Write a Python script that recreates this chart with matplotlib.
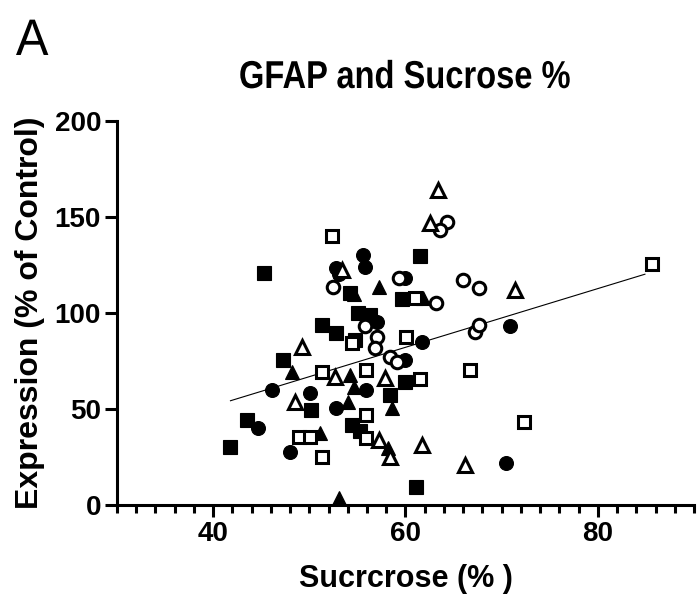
import matplotlib
matplotlib.use("Agg")
import matplotlib.pyplot as plt
from matplotlib.ticker import MultipleLocator
from matplotlib.textpath import TextPath
from matplotlib.patches import PathPatch
from matplotlib.font_manager import FontProperties
from matplotlib.transforms import Affine2D, IdentityTransform

plt.rcParams['font.family'] = ['Liberation Sans', 'DejaVu Sans']

# filled squares
fsq_x = [45.3, 61.5, 54.2, 59.6, 51.3, 52.8, 55.1, 56.3, 54.7, 47.3, 50.2, 43.5, 41.8, 54.4, 55.3, 59.9, 58.4, 61.1]
fsq_y = [120.8, 129.8, 110.3, 107.1, 93.8, 89.4, 99.8, 99.0, 85.9, 75.5, 49.5, 44.3, 30.4, 41.7, 38.5, 64.2, 57.3, 9.5]

# filled circles
fci_x = [55.6, 55.8, 52.8, 53.1, 59.9, 57.0, 61.7, 59.9, 46.1, 50.1, 52.8, 55.9, 44.7, 48.0, 70.9, 70.5]
fci_y = [130.2, 124.1, 123.3, 120.5, 118.0, 95.5, 85.1, 75.5, 59.9, 58.2, 50.3, 59.9, 39.9, 27.8, 93.2, 21.7]

# filled triangles
ftr_x = [57.2, 61.8, 54.6, 48.2, 54.2, 54.6, 54.0, 58.6, 51.1, 58.2, 53.1]
ftr_y = [113.7, 107.6, 110.0, 69.4, 67.7, 61.6, 53.8, 50.3, 37.3, 29.5, 3.5]

# open squares
osq_x = [52.4, 61.0, 60.1, 54.4, 51.3, 55.9, 61.5, 66.7, 55.9, 48.9, 50.1, 55.9, 51.3, 72.3, 85.6]
osq_y = [140.3, 107.6, 87.7, 84.2, 69.4, 70.3, 65.5, 70.3, 46.9, 35.6, 35.6, 34.7, 25.2, 43.4, 125.4]

# open circles
oci_x = [52.5, 59.3, 64.3, 63.6, 63.2, 66.0, 67.6, 55.8, 57.0, 56.8, 58.4, 59.1, 67.2, 67.6]
oci_y = [113.7, 118.0, 147.6, 143.2, 105.0, 117.2, 112.9, 93.0, 87.7, 81.6, 77.2, 74.6, 90.3, 93.8]

# open triangles
otr_x = [63.4, 62.6, 53.4, 49.2, 52.7, 57.9, 48.5, 57.2, 58.4, 61.7, 66.2, 71.4]
otr_y = [164.0, 146.7, 122.4, 82.5, 66.5, 66.0, 53.8, 33.9, 25.2, 31.3, 20.8, 112.0]

# regression line ends
fit_x = [41.8, 84.9]
fit_y = [54.3, 120.2]

fig = plt.figure(figsize=(6.99, 6.05), dpi=100)
ax = fig.add_axes([0.1674, 0.1653, 0.8254, 0.6347])


def squeezed_text(x, y, s, size, sx, weight='bold', ha='center'):
    # text drawn as a path, narrowed horizontally; x, y in pixels, y is the baseline
    fp = FontProperties(family='Liberation Sans', weight=weight)
    path = TextPath((0, 0), s, size=size * fig.dpi / 72, prop=fp)
    ext = path.get_extents()
    shift = ext.x0 if ha == 'left' else (ext.x0 + ext.x1) / 2
    tr = Affine2D().translate(-shift, 0).scale(sx, 1).translate(x, y)
    fig.add_artist(PathPatch(tr.transform_path(path), transform=IdentityTransform(),
                             facecolor='black', lw=0))


ax.plot(fit_x, fit_y, color='black', lw=0.8, zorder=2)

filled = dict(ls='none', color='black', mec='black', mew=0.8, clip_on=False, zorder=3)
hollow = dict(ls='none', mfc='white', mec='black', mew=2.2, clip_on=False, zorder=3)

ax.plot(fsq_x, fsq_y, marker='s', ms=10, **filled)
ax.plot(fci_x, fci_y, marker='o', ms=10, **filled)
ax.plot(ftr_x, ftr_y, marker='^', ms=10, **filled)
ax.plot(osq_x, osq_y, marker='s', ms=9, **hollow)
ax.plot(oci_x, oci_y, marker='o', ms=9, **hollow)
ax.plot(otr_x, otr_y, marker='^', ms=10, **hollow)

ax.set_xlim(30, 90)
ax.set_ylim(0, 200)
ax.set_xticks([40, 60, 80])
ax.xaxis.set_minor_locator(MultipleLocator(2))
ax.set_yticks([0, 50, 100, 150, 200])

for s in ['top', 'right']:
    ax.spines[s].set_visible(False)
for s in ['left', 'bottom']:
    ax.spines[s].set_linewidth(2.2)

ax.tick_params(axis='both', which='major', width=2.2, length=8.5,
               labelsize=20, pad=3)
ax.tick_params(axis='x', which='minor', width=2.2, length=5.5)
for lbl in ax.get_xticklabels() + ax.get_yticklabels():
    lbl.set_fontweight('bold')

ax.set_xlabel('Sucrcrose (% )', fontsize=22, fontweight='bold', labelpad=12)
ax.set_ylabel('Expression (% of Control)', fontsize=23, fontweight='bold', labelpad=7)

# title centred over the plot area, and the panel letter
squeezed_text(405, 605 - 88, 'GFAP and Sucrose %', 28, 0.84)
squeezed_text(16, 605 - 55, 'A', 37, 0.95, weight='normal', ha='left')

fig.savefig('out.png', dpi=100)
